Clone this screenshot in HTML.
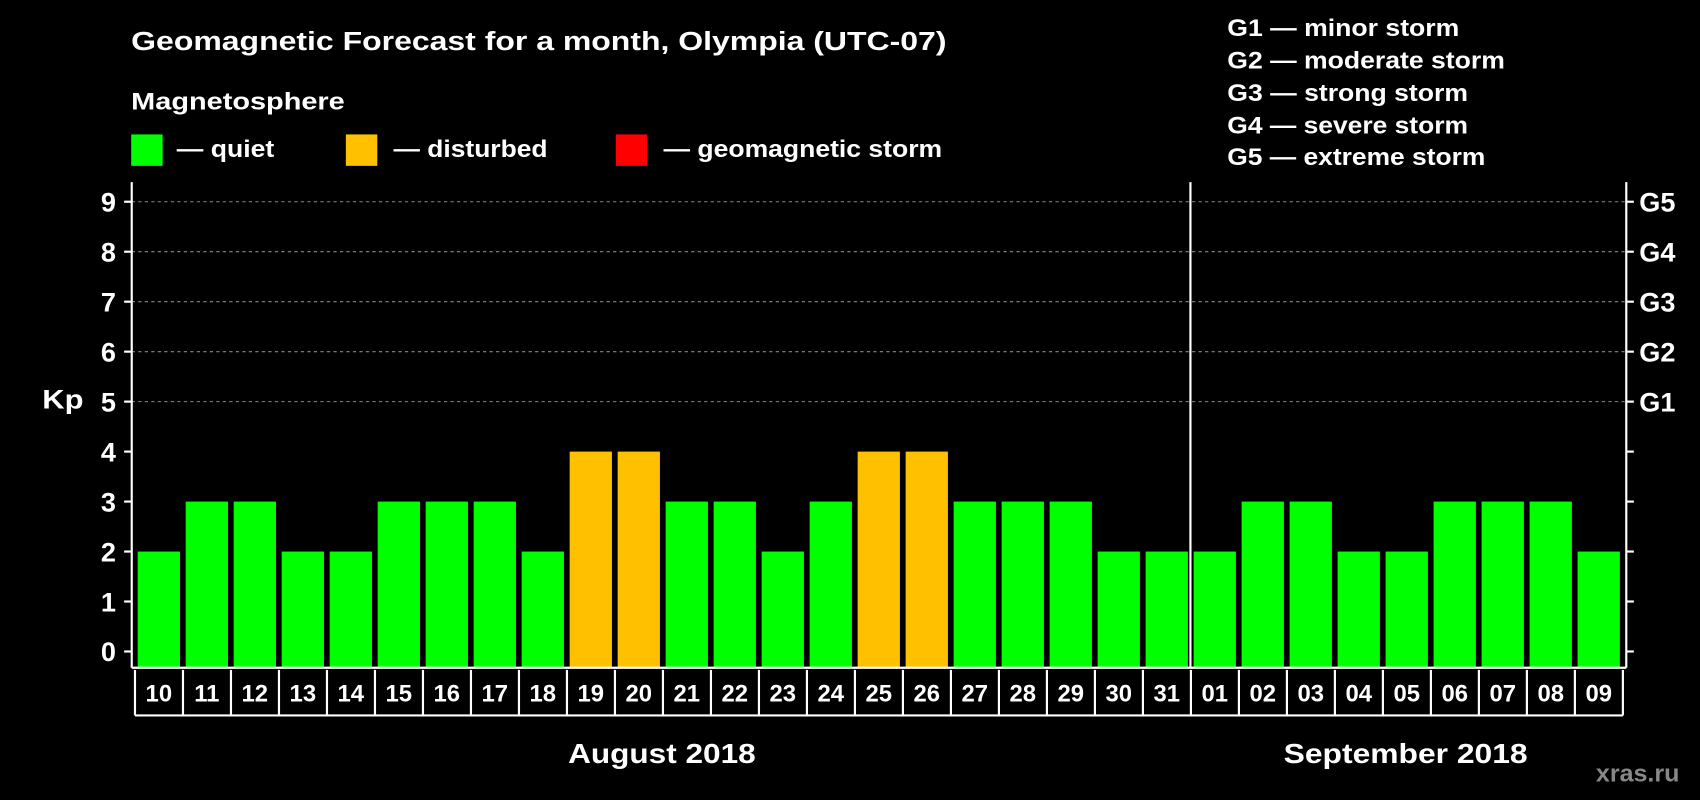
<!DOCTYPE html>
<html><head><meta charset="utf-8"><style>
html,body{margin:0;padding:0;background:#000;}
svg{display:block;font-family:"Liberation Sans",Arial,sans-serif;font-weight:bold;}
</style></head><body>
<svg id="chart" width="1700" height="800" viewBox="0 0 1568 738" preserveAspectRatio="none" xmlns="http://www.w3.org/2000/svg">
<rect width="1568" height="738" fill="#000"/>
<text x="121" y="46" fill="#fff" font-size="24" textLength="752" lengthAdjust="spacingAndGlyphs">Geomagnetic Forecast for a month, Olympia (UTC-07)</text>
<text x="121" y="101" fill="#fff" font-size="22" textLength="197" lengthAdjust="spacingAndGlyphs">Magnetosphere</text>
<g><rect x="121" y="124" width="29" height="29" fill="#00ff00"/><text x="163" y="145" fill="#fff" font-size="22" textLength="90" lengthAdjust="spacingAndGlyphs">— quiet</text></g>
<g><rect x="319" y="124" width="29" height="29" fill="#ffc000"/><text x="363" y="145" fill="#fff" font-size="22" textLength="142" lengthAdjust="spacingAndGlyphs">— disturbed</text></g>
<g><rect x="568" y="124" width="29" height="29" fill="#ff0000"/><text x="612" y="145" fill="#fff" font-size="22" textLength="257" lengthAdjust="spacingAndGlyphs">— geomagnetic storm</text></g>
<g fill="#fff" font-size="22" lengthAdjust="spacingAndGlyphs">
<text x="1132" y="33" textLength="214" lengthAdjust="spacingAndGlyphs">G1 — minor storm</text>
<text x="1132" y="63" textLength="256" lengthAdjust="spacingAndGlyphs">G2 — moderate storm</text>
<text x="1132" y="93" textLength="222" lengthAdjust="spacingAndGlyphs">G3 — strong storm</text>
<text x="1132" y="123" textLength="222" lengthAdjust="spacingAndGlyphs">G4 — severe storm</text>
<text x="1132" y="152" textLength="238" lengthAdjust="spacingAndGlyphs">G5 — extreme storm</text>
</g>
<text x="39" y="377" fill="#fff" font-size="25" textLength="38" lengthAdjust="spacingAndGlyphs">Kp</text>
<text x="524" y="704" fill="#fff" font-size="26" textLength="173" lengthAdjust="spacingAndGlyphs">August 2018</text>
<text x="1184" y="704" fill="#fff" font-size="26" textLength="225" lengthAdjust="spacingAndGlyphs">September 2018</text>
<text x="1472" y="721" fill="#888" font-size="22" textLength="77" lengthAdjust="spacingAndGlyphs">xras.ru</text>
<g id="grid"></g><g id="bars"></g><g id="axes"></g><g id="days"></g>
</svg>
<script>
const days = ["10","11","12","13","14","15","16","17","18","19","20","21","22","23","24","25","26","27","28","29","30","31","01","02","03","04","05","06","07","08","09"];
const kp = [2,3,3,2,2,3,3,3,2,4,4,3,3,2,3,4,4,3,3,3,2,2,2,3,3,2,2,3,3,3,2];
const yTicks = [0,1,2,3,4,5,6,7,8,9];
const gLabels = ["G1","G2","G3","G4","G5"];
(function(){
const NS="http://www.w3.org/2000/svg";
const y0=601, unit=46.1, axisBottom=616, leftX=121.5, rightX=1500, topY=168;
const pitch=44.27, x0=127, bw=39;
function yS(v){return y0-v*unit;}
function xS(i){return x0+i*pitch;}
function mk(tag,attrs,parent){const e=document.createElementNS(NS,tag);for(const k in attrs)e.setAttribute(k,attrs[k]);parent.appendChild(e);return e;}
const grid=document.getElementById('grid'),bars=document.getElementById('bars'),axes=document.getElementById('axes'),dg=document.getElementById('days');
for(let v=5;v<=9;v++){
  const l=mk('line',{x1:leftX,x2:rightX,y1:yS(v),y2:yS(v),stroke:'#888','stroke-dasharray':'3,3','stroke-width':1},grid);
  
  
}
kp.forEach((v,i)=>{
  const c=v>=5?'#ff0000':(v>=4?'#ffc000':'#00ff00');
  const r=mk('rect',{x:xS(i),y:yS(v),width:bw,height:axisBottom-yS(v),fill:c},bars);
  
  
});
mk('line',{x1:leftX,x2:leftX,y1:topY,y2:axisBottom,stroke:'#fff','stroke-width':2},axes);
mk('line',{x1:rightX,x2:rightX,y1:topY,y2:axisBottom,stroke:'#fff','stroke-width':2},axes);
mk('line',{x1:leftX,x2:rightX,y1:axisBottom,y2:axisBottom,stroke:'#fff','stroke-width':2},axes);
const div=mk('line',{x1:1098,x2:1098,y1:topY,y2:axisBottom,stroke:'#fff','stroke-width':2},axes);


yTicks.forEach(v=>{
  mk('line',{x1:leftX-7,x2:leftX,y1:yS(v),y2:yS(v),stroke:'#fff','stroke-width':2},axes);
  mk('line',{x1:rightX,x2:rightX+7,y1:yS(v),y2:yS(v),stroke:'#fff','stroke-width':2},axes);
  const t=mk('text',{x:107,y:yS(v)+9,fill:'#fff','font-size':25,'text-anchor':'end'},axes);
  
  
  t.textContent=v;
});
gLabels.forEach((g,i)=>{
  const t=mk('text',{x:1512,y:yS(5+i)+9,fill:'#fff','font-size':25},axes);
  
  
  t.textContent=g;
});
days.forEach((d,i)=>{
  const bx=xS(i)-2.5;
  mk('line',{x1:bx,x2:bx,y1:618,y2:660,stroke:'#fff','stroke-width':2},dg);
  const t=mk('text',{x:xS(i)+bw/2,y:647,fill:'#fff','font-size':22,'text-anchor':'middle'},dg);
  
  
  t.textContent=d;
});
const lastX=xS(days.length-1)-2.5+pitch;
mk('line',{x1:lastX,x2:lastX,y1:618,y2:660,stroke:'#fff','stroke-width':2},dg);
mk('line',{x1:xS(0)-2.5,x2:lastX,y1:660,y2:660,stroke:'#fff','stroke-width':2},dg);
})();
</script>
</body></html>
